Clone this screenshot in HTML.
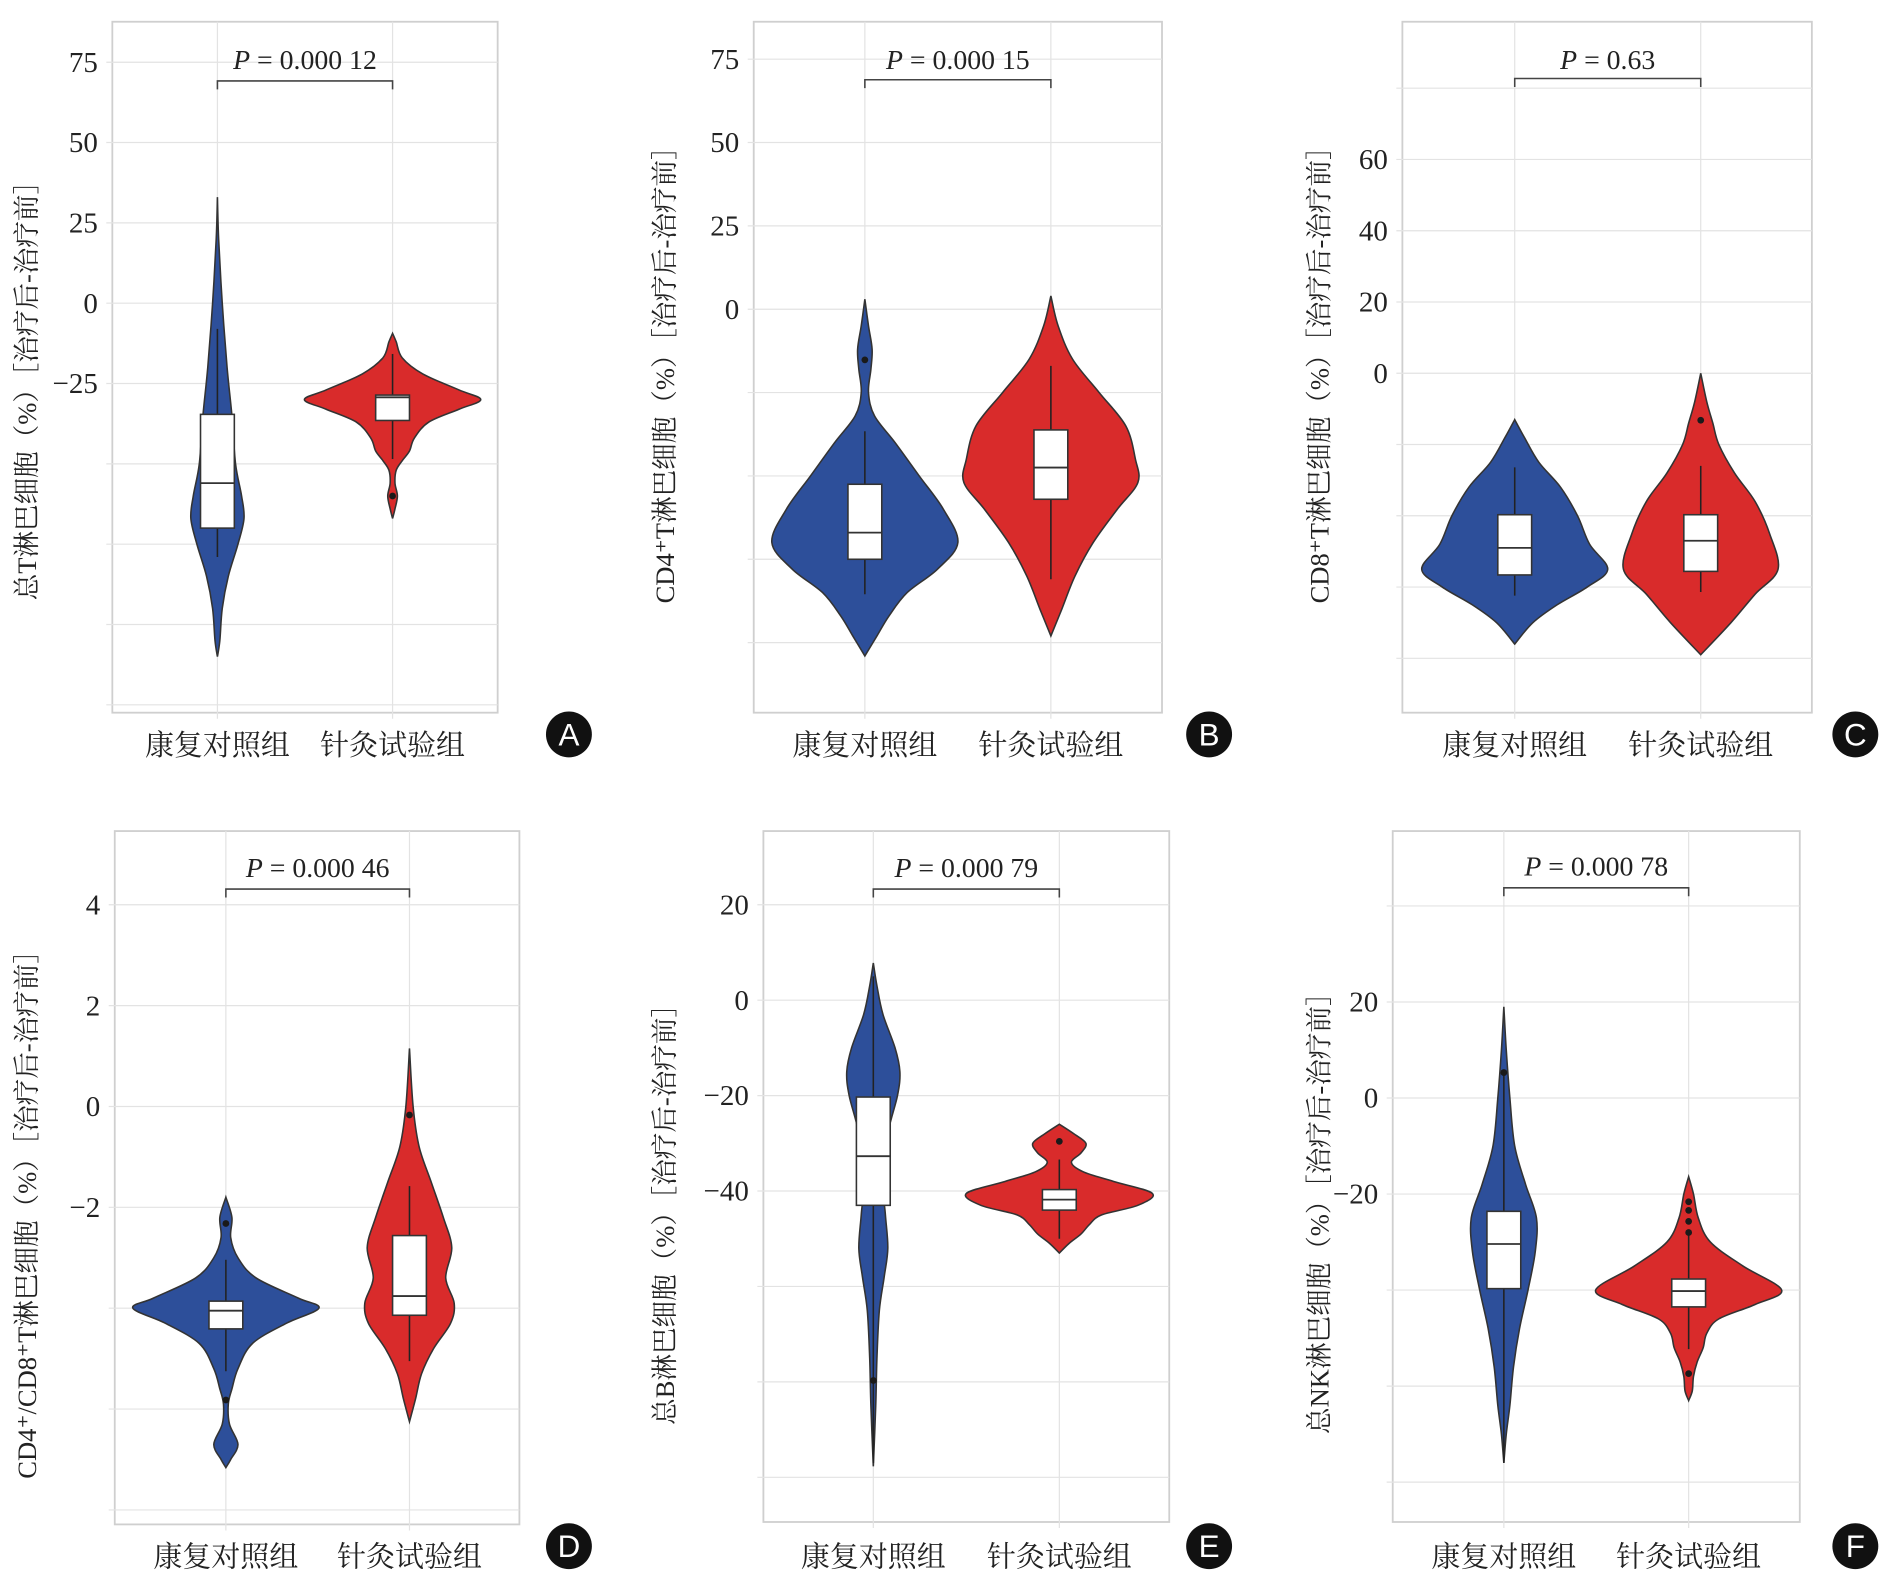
<!DOCTYPE html>
<html><head><meta charset="utf-8">
<style>
html,body{margin:0;padding:0;background:#fff;}
svg{display:block;}
.tick{font-family:"Liberation Serif","Noto Serif CJK SC",serif;font-size:24px;fill:#222;}
.ytitle{font-family:"Liberation Serif","Noto Serif CJK SC",serif;font-size:22px;fill:#222;}
.xlab{font-family:"Liberation Serif","Noto Serif CJK SC","Noto Sans CJK SC",serif;font-size:24px;fill:#222;}
.plab{font-family:"Liberation Serif",serif;font-size:23px;fill:#222;}
.badge{font-family:"Liberation Sans",sans-serif;font-size:26px;fill:#fff;}
</style></head>
<body>
<svg id="fig" width="1894" height="1583" viewBox="0 0 1568 1310.5" preserveAspectRatio="none" xmlns="http://www.w3.org/2000/svg"></svg>
<script>
// ---- Data ----
const categories = ["康复对照组", "针灸试验组"];
const panelLetters = ["A","B","C","D","E","F"];
const pValues = ["0.000 12","0.000 15","0.63","0.000 46","0.000 79","0.000 78"];
const yTitles = ["总T淋巴细胞（%）［治疗后-治疗前］","CD4⁺T淋巴细胞（%）［治疗后-治疗前］","CD8⁺T淋巴细胞（%）［治疗后-治疗前］","CD4⁺/CD8⁺T淋巴细胞（%）［治疗后-治疗前］","总B淋巴细胞（%）［治疗后-治疗前］","总NK淋巴细胞（%）［治疗后-治疗前］"];
const tickLabelsA = [75,50,25,0,-25];
const tickLabelsB = [75,50,25,0];
const tickLabelsC = [60,40,20,0];
const tickLabelsD = [4,2,0,-2];
const tickLabelsE = [20,0,-20,-40];
const tickLabelsF = [20,0,-20];
// violin density profiles: [value, relative density]
const violinA1 = [[33,0],[20,1],[0,4],[-20,8],[-35,12],[-50,15],[-60,20],[-67,22],[-75,17],[-85,9],[-95,4],[-105,2],[-110,0]];
const violinA2 = [[-9.4,0],[-12,3],[-17,8],[-22,25],[-27,55],[-30,73],[-33,55],[-37,30],[-42,18],[-46,14],[-49,8],[-52,3],[-56,2],[-60,4],[-64,2],[-67,0]];
const violinB1 = [[3,0],[-5,3],[-12,6],[-18,5],[-25,3],[-32,8],[-40,25],[-50,45],[-60,65],[-70,77],[-78,60],[-85,35],[-92,20],[-98,10],[-104,0]];
const violinB2 = [[4,0],[-5,6],[-15,18],[-25,40],[-35,62],[-45,70],[-52,72],[-60,55],[-70,35],[-80,20],[-90,9],[-98,0]];
const violinC1 = [[-13,0],[-18,8],[-25,20],[-32,38],[-40,52],[-48,62],[-55,77],[-60,60],[-65,35],[-70,15],[-76,0]];
const violinC2 = [[0,0],[-8,5],[-14,10],[-20,15],[-28,28],[-36,45],[-45,57],[-55,64],[-62,45],[-70,25],[-79,0]];
const violinD1 = [[-1.8,0],[-2.2,5],[-2.6,4],[-3.0,10],[-3.4,25],[-3.8,60],[-4.0,77],[-4.3,50],[-4.7,22],[-5.2,10],[-5.6,5],[-5.9,2],[-6.3,3],[-6.7,10],[-7.0,4],[-7.16,0]];
const violinD2 = [[1.15,0],[0,3],[-0.8,8],[-1.5,18],[-2.2,28],[-2.8,35],[-3.4,30],[-3.9,37],[-4.3,34],[-4.8,20],[-5.3,10],[-5.8,5],[-6.25,0]];
const violinE1 = [[7.8,0],[3,3],[-3,8],[-10,18],[-15,22],[-20,20],[-28,12],[-38,8],[-45,10],[-52,12],[-58,9],[-65,5],[-75,3],[-85,2],[-97.7,0]];
const violinE2 = [[-26,0],[-28,12],[-30,22],[-32,18],[-34,10],[-36,20],[-38,45],[-40.5,77],[-43,65],[-45,35],[-47,25],[-49,18],[-51,8],[-53,0]];
const violinF1 = [[19,0],[10,2],[0,5],[-10,9],[-18,18],[-25,27],[-32,26],[-40,20],[-48,13],[-56,8],[-64,5],[-70,2],[-76,0]];
const violinF2 = [[-16.4,0],[-20,4],[-25,8],[-30,18],[-35,45],[-40,77],[-43,55],[-46,25],[-49,15],[-52,12],[-55,7],[-58,4],[-61,3],[-63,0]];
// box stats: [whiskerLo, q1, median, q3, whiskerHi]
const boxA1 = [-79,-70,-56,-34.6,-8];   const boxA2 = [-48.5,-36.5,-29.3,-28.6,-15.8];
const boxB1 = [-85.5,-75,-67,-52.5,-36.6]; const boxB2 = [-81,-57,-47.5,-36.2,-17];
const boxC1 = [-62.4,-56.6,-49,-39.7,-26.4]; const boxC2 = [-61.4,-55.6,-47,-39.7,-26];
const boxD1 = [-5.25,-4.41,-4.05,-3.86,-3.04]; const boxD2 = [-5.05,-4.14,-3.76,-2.56,-1.58];
const boxE1 = [-97,-43,-32.7,-20.3,5]; const boxE2 = [-50,-44,-41.8,-39.7,-33.4];
const boxF1 = [-76,-39.7,-30.4,-23.6,5]; const boxF2 = [-52.3,-43.5,-40.2,-37.7,-27.4];
const outliersA1 = []; const outliersA2 = [-60];
const outliersB1 = [-15.2]; const outliersB2 = [];
const outliersC1 = []; const outliersC2 = [-13.2];
const outliersD1 = [-2.32,-5.82]; const outliersD2 = [-0.17];
const outliersE1 = [-79.7]; const outliersE2 = [-29.6];
const outliersF1 = [5.3]; const outliersF2 = [-21.6,-23.4,-25.7,-28,-57.4];

// ---- Layout (not data) ----
const layouts = [
 {x0:93,x1:412,y0:18,y1:590,zero:251,ppu:66.5/25,step:25,cx:[180,325],ty:[49,67],bx:471,by:608,tx:22,tcy:318},
 {x0:624,x1:962,y0:18,y1:590,zero:256,ppu:69/25,step:25,cx:[716,870],ty:[49,66],bx:1001,by:608,tx:550,tcy:305},
 {x0:1161,x1:1500,y0:18,y1:590,zero:309,ppu:59/20,step:20,cx:[1254,1408],ty:[49,65],bx:1536,by:608,tx:1092,tcy:305},
 {x0:95,x1:430,y0:688,y1:1262,zero:916,ppu:83.5/2,step:2,cx:[187,339],ty:[718,736],bx:471,by:1280,tx:22,tcy:1000},
 {x0:632,x1:968,y0:688,y1:1260,zero:828,ppu:79/20,step:20,cx:[723,877],ty:[718,736],bx:1001,by:1280,tx:550,tcy:1000},
 {x0:1153,x1:1490,y0:688,y1:1260,zero:909,ppu:79.5/20,step:20,cx:[1245,1398],ty:[717,735],bx:1536,by:1280,tx:1092,tcy:999}
];
const ticksAll=[tickLabelsA,tickLabelsB,tickLabelsC,tickLabelsD,tickLabelsE,tickLabelsF];
const violins=[[violinA1,violinA2],[violinB1,violinB2],[violinC1,violinC2],[violinD1,violinD2],[violinE1,violinE2],[violinF1,violinF2]];
const boxes=[[boxA1,boxA2],[boxB1,boxB2],[boxC1,boxC2],[boxD1,boxD2],[boxE1,boxE2],[boxF1,boxF2]];
const outs=[[outliersA1,outliersA2],[outliersB1,outliersB2],[outliersC1,outliersC2],[outliersD1,outliersD2],[outliersE1,outliersE2],[outliersF1,outliersF2]];
const colors=["#2d4f9a","#d92b2b"];
const NS="http://www.w3.org/2000/svg";
const svg=document.getElementById('fig');
function mk(tag,attrs,parent){const e=document.createElementNS(NS,tag);for(const k in attrs)e.setAttribute(k,attrs[k]);(parent||svg).appendChild(e);return e;}

function smoothPath(pts){
  let d="M"+pts[0][0]+","+pts[0][1];
  for(let i=0;i<pts.length-1;i++){
    const p0=pts[Math.max(i-1,0)],p1=pts[i],p2=pts[i+1],p3=pts[Math.min(i+2,pts.length-1)];
    const c1=[p1[0]+(p2[0]-p0[0])/6,p1[1]+(p2[1]-p0[1])/6];
    const c2=[p2[0]-(p3[0]-p1[0])/6,p2[1]-(p3[1]-p1[1])/6];
    d+=" C"+c1[0]+","+c1[1]+" "+c2[0]+","+c2[1]+" "+p2[0]+","+p2[1];
  }
  return d;
}

layouts.forEach((L,pi)=>{
  const g=mk('g',{});
  
  
  const y=v=>L.zero-v*L.ppu;
  const fr=mk('rect',{x:L.x0,y:L.y0,width:L.x1-L.x0,height:L.y1-L.y0,fill:'none',stroke:'#cfcfcf','stroke-width':1.5},g);
  
  
  const vTop=(L.zero-L.y0)/L.ppu, vBot=(L.zero-L.y1)/L.ppu;
  for(let v=Math.floor(vTop/L.step)*L.step; v>=vBot; v-=L.step){
    const yy=y(v); if(yy<L.y0+2||yy>L.y1-2) continue;
    const gl=mk('line',{x1:L.x0-5,x2:L.x1,y1:yy,y2:yy,stroke:'#e3e3e3','stroke-width':1},g);
    
    
  }
  L.cx.forEach(cx=>{
    const vl=mk('line',{x1:cx,x2:cx,y1:L.y0,y2:L.y1+5,stroke:'#e3e3e3','stroke-width':1},g);
    
    
  });
  ticksAll[pi].forEach(t=>{
    const tx=mk('text',{x:L.x0-12,y:y(t)+8,'text-anchor':'end',class:'tick'},g);
    tx.textContent=(t<0?'−'+Math.abs(t):String(t));
    
    
  });
  const yt=mk('text',{x:0,y:0,'text-anchor':'middle',class:'ytitle',transform:`translate(${L.tx+8},${L.tcy}) rotate(-90)`},g);
  yt.textContent=yTitles[pi];
  
  
  [0,1].forEach(k=>{
    const cx=L.cx[k], prof=violins[pi][k];
    const right=prof.map(p=>[cx+p[1],y(p[0])]);
    const left=prof.slice().reverse().map(p=>[cx-p[1],y(p[0])]);
    let d=smoothPath(right)+" L"+smoothPath(left).slice(1)+" Z";
    const vp=mk('path',{d:d,fill:colors[k],stroke:'#333','stroke-width':1.3},g);
    
    
    const b=boxes[pi][k];
    const wl=mk('line',{x1:cx,x2:cx,y1:y(b[0]),y2:y(b[4]),stroke:'#222','stroke-width':1.3},g);
    
    
    const br=mk('rect',{x:cx-14,y:y(b[3]),width:28,height:y(b[1])-y(b[3]),fill:'#fff',stroke:'#333','stroke-width':1.3},g);
    
    
    const ml=mk('line',{x1:cx-14,x2:cx+14,y1:y(b[2]),y2:y(b[2]),stroke:'#333','stroke-width':1.5},g);
    
    
    outs[pi][k].forEach(o=>{
      const c=mk('circle',{cx:cx,cy:y(o),r:2.8,fill:'#1a1a1a'},g);
      
      
    });
  });
  const br=mk('path',{d:`M${L.cx[0]},${L.ty[1]+7} V${L.ty[1]} H${L.cx[1]} V${L.ty[1]+7}`,fill:'none',stroke:'#444','stroke-width':1.3},g);
  
  
  const pt=mk('text',{x:(L.cx[0]+L.cx[1])/2,y:L.ty[0]+8,'text-anchor':'middle',class:'plab'},g);
  pt.innerHTML='<tspan font-style="italic">P</tspan> = '+pValues[pi];
  
  
  L.cx.forEach((cx,k)=>{
    const xl=mk('text',{x:cx,y:L.by+17,'text-anchor':'middle',class:'xlab'},g);
    xl.textContent=categories[k];
    
    
  });
  const bc=mk('circle',{cx:L.bx,cy:L.by,r:19,fill:'#111'},g);
  
  
  const bt=mk('text',{x:L.bx,y:L.by+9,'text-anchor':'middle',class:'badge'},g);
  bt.textContent=panelLetters[pi];
  
  
});
</script>
</body></html>
